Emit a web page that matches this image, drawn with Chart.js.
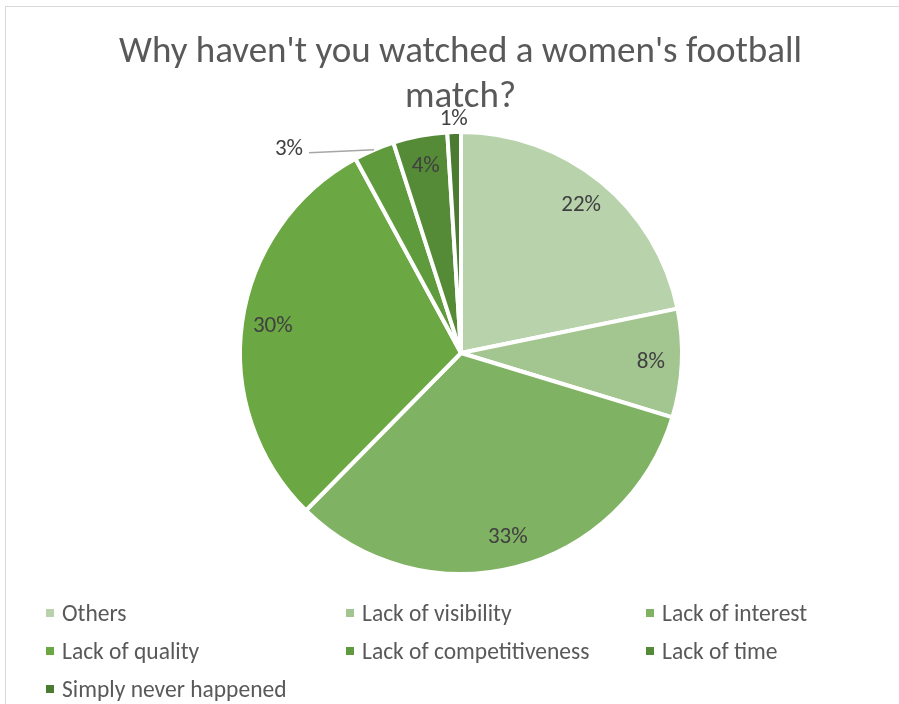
<!DOCTYPE html>
<html>
<head>
<meta charset="utf-8">
<script src="https://cdn.jsdelivr.net/npm/chart.js@4"></script>
<style>
  html, body { margin: 0; padding: 0; background: #fff; }
  body { width: 899px; height: 704px; position: relative; overflow: hidden;
         font-family: Carlito, Calibri, Lato, "Open Sans", sans-serif; color: #595959; }
  #frame { position: absolute; left: 5px; top: 6px; width: 920px; height: 720px;
           border: 1px solid #d9d9d9; box-sizing: border-box; }
  #wrap { position: absolute; left: 0; top: 0; width: 899px; height: 704px; }
  #title { position: absolute; left: 0; width: 921px; top: 27px; text-align: center;
           font-size: 37px; line-height: 45px; color: #595959; }
  #legend { position: absolute; left: 46px; top: 599px; display: grid;
            grid-template-columns: 300px 300px 300px; grid-auto-rows: 38px; font-size: 23.5px; }
  .item { display: flex; align-items: center; height: 28px; white-space: nowrap; }
  .sw { width: 8px; height: 8px; margin-right: 8px; flex: none; }
</style>
</head>
<body>
<div id="frame"></div>
<div id="wrap"><canvas id="c" width="899" height="704"></canvas></div>
<div id="title">Why haven't you watched a women's football<br>match?</div>
<div id="legend"></div>
<script>
// Survey answers, in drawing order (clockwise from 12 o'clock)
const categories = [
  'Others', 'Lack of visibility', 'Lack of interest', 'Lack of quality',
  'Lack of competitiveness', 'Lack of time', 'Simply never happened'
];
const shares = [22, 8, 33, 30, 3, 4, 1];

// Slice fills, light to dark green
const colors = ['#b8d3ab', '#a3c590', '#80b264', '#6ba743', '#5f9a3d', '#558b37', '#4b7b31'];
// Where each percentage label goes: inside the slice, outside with a leader line, or just outside
const labelPlacement = ['inside', 'inside', 'inside', 'inside', 'callout', 'inside', 'outside'];

const labelPlugin = {
  id: 'sliceLabels',
  afterDatasetsDraw(chart) {
    const ctx = chart.ctx;
    const meta = chart.getDatasetMeta(0);
    const data = chart.data.datasets[0].data;
    const total = data.reduce((a, b) => a + b, 0);
    ctx.save();
    ctx.font = '23px Carlito, Calibri, Lato, "Open Sans", sans-serif';
    ctx.fillStyle = '#404040';
    ctx.textBaseline = 'middle';
    meta.data.forEach((arc, i) => {
      const { x, y, startAngle, endAngle, outerRadius } = arc.getProps(['x', 'y', 'startAngle', 'endAngle', 'outerRadius'], true);
      const mid = (startAngle + endAngle) / 2;
      const txt = Math.round(data[i] / total * 100) + '%';
      const cos = Math.cos(mid), sin = Math.sin(mid);
      const mode = labelPlacement[i];
      if (mode === 'inside') {
        const r = outerRadius * 0.86;
        ctx.textAlign = 'center';
        ctx.fillText(txt, x + cos * r, y + sin * r);
      } else if (mode === 'outside') {
        const r = outerRadius + 13;
        ctx.textAlign = 'center';
        ctx.fillText(txt, x + cos * r, y + sin * r);
      } else {
        const ax = x + cos * outerRadius, ay = y + sin * outerRadius;
        const bx = ax - 65, by = ay + 3;
        ctx.strokeStyle = '#a6a6a6';
        ctx.lineWidth = 1.5;
        ctx.beginPath();
        ctx.moveTo(ax, ay);
        ctx.lineTo(bx, by);
        ctx.stroke();
        ctx.textAlign = 'right';
        ctx.fillText(txt, bx - 6, by - 4);
      }
    });
    ctx.restore();
  }
};

const chart = new Chart(document.getElementById('c'), {
  type: 'pie',
  data: {
    labels: categories,
    datasets: [{
      data: shares,
      backgroundColor: colors,
      borderColor: '#ffffff',
      borderWidth: 4
    }]
  },
  options: {
    responsive: false,
    animation: false,
    layout: { padding: { left: 238, right: 215, top: 130, bottom: 128 } },
    plugins: {
      legend: { display: false },
      title: { display: false },
      tooltip: { enabled: false }
    }
  },
  plugins: [labelPlugin]
});

// Legend in three columns, built from the chart's own items
const legendEl = document.getElementById('legend');
chart.data.labels.forEach((label, i) => {
  const item = document.createElement('div');
  item.className = 'item';
  const sw = document.createElement('span');
  sw.className = 'sw';
  sw.style.background = chart.data.datasets[0].backgroundColor[i];
  const t = document.createElement('span');
  t.textContent = label;
  item.appendChild(sw);
  item.appendChild(t);
  legendEl.appendChild(item);
});
</script>
</body>
</html>
